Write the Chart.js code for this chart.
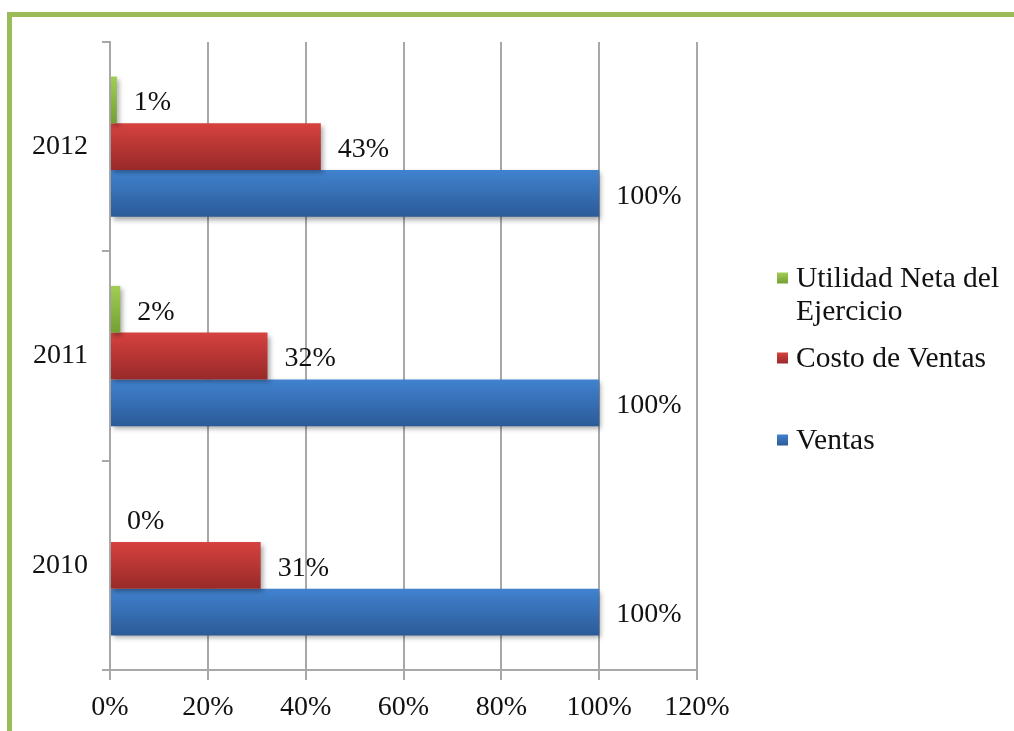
<!DOCTYPE html>
<html>
<head>
<meta charset="utf-8">
<script src="https://cdn.jsdelivr.net/npm/chart.js@4.4.1/dist/chart.umd.min.js"></script>
<style>
  html, body { margin: 0; padding: 0; background: #ffffff; overflow: hidden; width: 1014px; height: 731px; }
  #wrap { position: relative; width: 1014px; height: 731px; }
  #frame { position: absolute; left: 7px; top: 12px; width: 3000px; height: 3000px; border: 5px solid #9bbb59; box-sizing: border-box; pointer-events: none; }
  canvas { position: absolute; left: 0; top: 0; }
</style>
</head>
<body>
<div id="wrap">
  <div id="frame"></div>
  <canvas id="c" width="1014" height="731"></canvas>
</div>
<script>
// ---- data ----
const categories = ['2012', '2011', '2010'];
const utilidadNeta = [1.4, 2.1, 0];
const costoVentas = [43.1, 32.2, 30.8];
const ventas = [100, 100, 100];
const xTicks = [0, 20, 40, 60, 80, 100, 120];
const seriesNames = ['Utilidad Neta del Ejercicio', 'Costo de Ventas', 'Ventas'];

const FONT = '"Liberation Serif", "Times New Roman", serif';
const gradStops = [
  ['#a2cd55', '#74a034'],
  ['#d6423f', '#982a29'],
  ['#4182cf', '#2b5b98']
];

const gradientPlugin = {
  id: 'barGradient',
  beforeDatasetDraw(chart, args) {
    const meta = args.meta;
    const ctx = chart.ctx;
    const stops = gradStops[args.index];
    meta.data.forEach(el => {
      const top = el.y - el.height / 2;
      const bot = el.y + el.height / 2;
      const g = ctx.createLinearGradient(0, top, 0, bot);
      g.addColorStop(0, stops[0]);
      g.addColorStop(1, stops[1]);
      el.options = Object.assign({}, el.options, { backgroundColor: g });
    });
    ctx.save();
    ctx.shadowColor = 'rgba(0,0,0,0.35)';
    ctx.shadowBlur = 5;
    ctx.shadowOffsetX = 2;
    ctx.shadowOffsetY = 3;
  },
  afterDatasetDraw(chart) {
    chart.ctx.restore();
  }
};

const labelPlugin = {
  id: 'valueLabels',
  afterDatasetsDraw(chart) {
    const ctx = chart.ctx;
    ctx.save();
    ctx.font = '28px ' + FONT;
    ctx.fillStyle = '#111111';
    ctx.textAlign = 'left';
    ctx.textBaseline = 'middle';
    chart.data.datasets.forEach((ds, di) => {
      const meta = chart.getDatasetMeta(di);
      meta.data.forEach((el, i) => {
        const v = ds.data[i];
        ctx.fillText(Math.round(v) + '%', el.x + 17, el.y + 3);
      });
    });
    ctx.restore();
  }
};

const legendPlugin = {
  id: 'customLegend',
  afterDraw(chart) {
    const ctx = chart.ctx;
    const o = chart.options.plugins.customLegend;
    ctx.save();
    ctx.font = o.size + 'px ' + FONT;
    ctx.textBaseline = 'middle';
    ctx.textAlign = 'left';
    chart.data.datasets.forEach((ds, di) => {
      const words = ds.label.split(' ');
      const lines = [];
      let cur = '';
      words.forEach(w => {
        const t = cur ? cur + ' ' + w : w;
        if (ctx.measureText(t).width > o.maxWidth && cur) { lines.push(cur); cur = w; } else { cur = t; }
      });
      lines.push(cur);
      const y0 = o.ys[di];
      const stops = gradStops[di];
      const g = ctx.createLinearGradient(0, y0 - o.box / 2, 0, y0 + o.box / 2);
      g.addColorStop(0, stops[0]);
      g.addColorStop(1, stops[1]);
      ctx.fillStyle = g;
      ctx.fillRect(o.x, y0 - o.box / 2, o.box, o.box);
      ctx.fillStyle = '#111111';
      lines.forEach((ln, li) => {
        ctx.fillText(ln, o.x + o.box + 8, y0 + 1 + li * o.lineH);
      });
    });
    ctx.restore();
  }
};

const ctx = document.getElementById('c').getContext('2d');
new Chart(ctx, {
  type: 'bar',
  data: {
    labels: categories,
    datasets: [
      { label: seriesNames[0], data: utilidadNeta, backgroundColor: '#8cb84a' },
      { label: seriesNames[1], data: costoVentas, backgroundColor: '#c0393b' },
      { label: seriesNames[2], data: ventas, backgroundColor: '#3670b8' }
    ]
  },
  options: {
    indexAxis: 'y',
    responsive: false,
    animation: false,
    devicePixelRatio: 1,
    categoryPercentage: 0.67,
    barPercentage: 1,
    layout: { padding: { left: 30, right: 317, top: 42, bottom: 0 } },
    scales: {
      x: {
        min: 0,
        max: 120,
        afterBuildTicks(scale) { scale.ticks = xTicks.map(v => ({ value: v })); },
        afterFit(scale) { scale.height = 61; },
        ticks: {
          callback: v => v + '%',
          font: { family: FONT, size: 28 },
          color: '#111111',
          padding: 11,
          maxRotation: 0
        },
        grid: { color: '#a8a8a8', lineWidth: 2, tickLength: 10, drawOnChartArea: true },
        border: { color: '#a8a8a8', width: 2 }
      },
      y: {
        afterFit(scale) { scale.width = 80; },
        ticks: {
          font: { family: FONT, size: 28 },
          color: '#111111',
          padding: 14
        },
        grid: { drawOnChartArea: false, color: '#a8a8a8', lineWidth: 2, tickLength: 8, offset: true },
        border: { color: '#a8a8a8', width: 2 }
      }
    },
    plugins: {
      legend: { display: false },
      tooltip: { enabled: false },
      customLegend: { x: 777, ys: [278, 358, 440], box: 11, lineH: 33, size: 29.5, maxWidth: 222 }
    }
  },
  plugins: [gradientPlugin, labelPlugin, legendPlugin]
});
</script>
</body>
</html>
